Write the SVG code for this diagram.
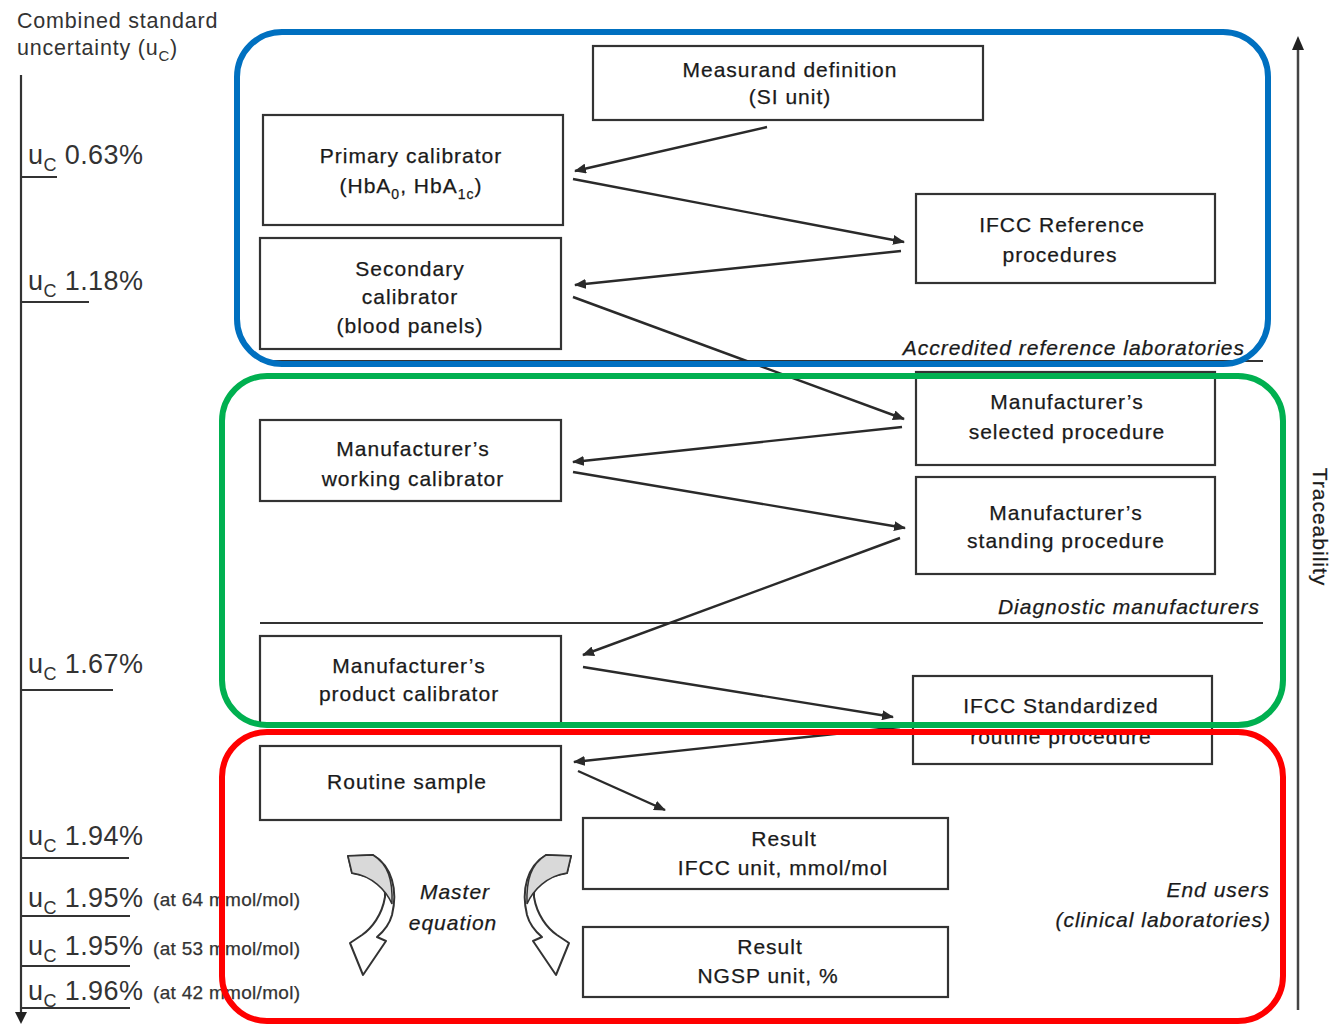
<svg xmlns="http://www.w3.org/2000/svg" width="1339" height="1026" viewBox="0 0 1339 1026">
  <defs>
    <marker id="tri" viewBox="0 0 12 10" refX="11" refY="5" markerWidth="12" markerHeight="10" markerUnits="userSpaceOnUse" orient="auto">
      <path d="M0,0 L12,5 L0,10 Z" fill="#2a2a2a"/>
    </marker>
    <style>
      .bx { fill: #fff; stroke: #333; stroke-width: 2.2; }
      .t { font-family: "Liberation Sans", Arial, sans-serif; font-size: 21px; fill: #1a1a1a; stroke: #1a1a1a; stroke-width: 0.25; letter-spacing: 1px; text-anchor: middle; }
      .it { font-family: "Liberation Sans", Arial, sans-serif; font-size: 21px; font-style: italic; fill: #1a1a1a; stroke: #1a1a1a; stroke-width: 0.25; letter-spacing: 1px; text-anchor: end; }
      .ax { stroke: #333; stroke-width: 2.2; fill: none; }
      .lbl { font-family: "Liberation Sans", Arial, sans-serif; font-size: 27px; fill: #333; letter-spacing: 0.4px; }
      .sub { font-size: 18px; }
      .sm { font-family: "Liberation Sans", Arial, sans-serif; font-size: 19px; fill: #333; stroke: #333; stroke-width: 0.25; letter-spacing: 0.3px; }
      .hd { font-family: "Liberation Sans", Arial, sans-serif; font-size: 21.5px; fill: #333; letter-spacing: 0.8px; }
      .cn { stroke: #2a2a2a; stroke-width: 2.4; fill: none; marker-end: url(#tri); }
      .frame { fill: none; stroke-width: 6; }
      .ribbon { fill: #fff; stroke: #333; stroke-width: 2; stroke-linejoin: round; }
      .fold { fill: #d9d9d9; stroke: #333; stroke-width: 1.5; }
    </style>
  </defs>

  <!-- uncertainty scale on the left -->
  <g id="uncertainty-scale">
    <text class="hd" x="17" y="28">Combined standard</text>
    <text class="hd" x="17" y="55">uncertainty (u<tspan font-size="15" dy="6">C</tspan><tspan dy="-6">)</tspan></text>
    <line class="ax" x1="21" y1="75" x2="21" y2="1014"/>
    <path d="M15,1012 L27,1012 L21,1024 Z" fill="#222"/>
    <line class="ax" x1="21" y1="177" x2="57" y2="177"/>
    <line class="ax" x1="21" y1="302" x2="89" y2="302"/>
    <line class="ax" x1="21" y1="690" x2="113" y2="690"/>
    <line class="ax" x1="21" y1="858" x2="129" y2="858"/>
    <line class="ax" x1="21" y1="916" x2="130" y2="916"/>
    <line class="ax" x1="21" y1="966" x2="130" y2="966"/>
    <line class="ax" x1="21" y1="1008" x2="130" y2="1008"/>
    <text class="lbl" x="28" y="164">u<tspan class="sub" dy="7">C</tspan><tspan dy="-7"> 0.63%</tspan></text>
    <text class="lbl" x="28" y="290">u<tspan class="sub" dy="7">C</tspan><tspan dy="-7"> 1.18%</tspan></text>
    <text class="lbl" x="28" y="673">u<tspan class="sub" dy="7">C</tspan><tspan dy="-7"> 1.67%</tspan></text>
    <text class="lbl" x="28" y="845">u<tspan class="sub" dy="7">C</tspan><tspan dy="-7"> 1.94%</tspan></text>
    <text class="lbl" x="28" y="907">u<tspan class="sub" dy="7">C</tspan><tspan dy="-7"> 1.95%</tspan></text>
    <text class="lbl" x="28" y="955">u<tspan class="sub" dy="7">C</tspan><tspan dy="-7"> 1.95%</tspan></text>
    <text class="lbl" x="28" y="1000">u<tspan class="sub" dy="7">C</tspan><tspan dy="-7"> 1.96%</tspan></text>
    <text class="sm" x="153" y="906">(at 64 mmol/mol)</text>
    <text class="sm" x="153" y="955">(at 53 mmol/mol)</text>
    <text class="sm" x="153" y="999">(at 42 mmol/mol)</text>
  </g>

  <!-- traceability axis on the right -->
  <g id="traceability">
    <line x1="1298" y1="1010" x2="1298" y2="48" stroke="#444" stroke-width="2.5"/>
    <path d="M1292,50 L1304,50 L1298,36 Z" fill="#222"/>
    <text class="t" font-size="24" transform="translate(1313,527) rotate(90)">Traceability</text>
  </g>

  <!-- section divider lines and captions -->
  <g id="sections">
    <line x1="260" y1="361" x2="1263" y2="361" stroke="#333" stroke-width="2"/>
    <line x1="260" y1="623" x2="1263" y2="623" stroke="#333" stroke-width="2"/>
    <text class="it" x="1245" y="355">Accredited reference laboratories</text>
    <text class="it" x="1260" y="614">Diagnostic manufacturers</text>
    <text class="it" x="1270" y="897">End users</text>
    <text class="it" x="1271" y="927">(clinical laboratories)</text>
  </g>

  <!-- connectors -->
  <g id="connectors">
    <line class="cn" x1="767" y1="127" x2="575" y2="171"/>
    <line class="cn" x1="573" y1="179" x2="904" y2="242"/>
    <line class="cn" x1="901" y1="251" x2="575" y2="285"/>
    <line class="cn" x1="573" y1="297" x2="904" y2="419"/>
    <line class="cn" x1="902" y1="427" x2="573" y2="462"/>
    <line class="cn" x1="573" y1="472" x2="905" y2="528"/>
    <line class="cn" x1="900" y1="538" x2="583" y2="655"/>
    <line class="cn" x1="583" y1="667" x2="893" y2="717"/>
    <line class="cn" x1="900" y1="727" x2="574" y2="762"/>
    <line class="cn" x1="578" y1="771" x2="665" y2="810"/>
  </g>

  <!-- nodes -->
  <g id="measurand">
    <rect class="bx" x="593" y="46" width="390" height="74"/>
    <text class="t" x="790" y="77">Measurand definition</text>
    <text class="t" x="790" y="104">(SI unit)</text>
  </g>
  <g id="primary-calibrator">
    <rect class="bx" x="263" y="115" width="300" height="110"/>
    <text class="t" x="411" y="163">Primary calibrator</text>
    <text class="t" x="411" y="193">(HbA<tspan font-size="14" dy="6">0</tspan><tspan dy="-6">, HbA</tspan><tspan font-size="14" dy="6">1c</tspan><tspan dy="-6">)</tspan></text>
  </g>
  <g id="secondary-calibrator">
    <rect class="bx" x="260" y="238" width="301" height="111"/>
    <text class="t" x="410" y="276">Secondary</text>
    <text class="t" x="410" y="304">calibrator</text>
    <text class="t" x="410" y="333">(blood panels)</text>
  </g>
  <g id="ifcc-reference">
    <rect class="bx" x="916" y="194" width="299" height="89"/>
    <text class="t" x="1062" y="232">IFCC Reference</text>
    <text class="t" x="1060" y="262">procedures</text>
  </g>
  <g id="mfr-selected">
    <rect class="bx" x="916" y="372" width="299" height="93"/>
    <text class="t" x="1067" y="409">Manufacturer’s</text>
    <text class="t" x="1067" y="439">selected procedure</text>
  </g>
  <g id="mfr-working">
    <rect class="bx" x="260" y="420" width="301" height="81"/>
    <text class="t" x="413" y="456">Manufacturer’s</text>
    <text class="t" x="413" y="486">working calibrator</text>
  </g>
  <g id="mfr-standing">
    <rect class="bx" x="916" y="477" width="299" height="97"/>
    <text class="t" x="1066" y="520">Manufacturer’s</text>
    <text class="t" x="1066" y="548">standing procedure</text>
  </g>
  <g id="mfr-product">
    <rect class="bx" x="260" y="636" width="301" height="88"/>
    <text class="t" x="409" y="673">Manufacturer’s</text>
    <text class="t" x="409" y="701">product calibrator</text>
  </g>
  <g id="ifcc-standardized">
    <rect class="bx" x="913" y="676" width="299" height="88"/>
    <text class="t" x="1061" y="713">IFCC Standardized</text>
    <text class="t" x="1061" y="744">routine procedure</text>
  </g>
  <g id="routine-sample">
    <rect class="bx" x="260" y="746" width="301" height="74"/>
    <text class="t" x="407" y="789">Routine sample</text>
  </g>
  <g id="result-ifcc">
    <rect class="bx" x="583" y="818" width="365" height="71"/>
    <text class="t" x="784" y="846">Result</text>
    <text class="t" x="783" y="875">IFCC unit, mmol/mol</text>
  </g>
  <g id="result-ngsp">
    <rect class="bx" x="583" y="927" width="365" height="70"/>
    <text class="t" x="770" y="954">Result</text>
    <text class="t" x="768" y="983">NGSP unit, %</text>
  </g>

  <!-- master equation: two curved ribbon arrows -->
  <g id="master-equation">
    <g id="ribbon-left">
      <path class="ribbon" d="M348,856 L373,855 C392,866 398,890 392,915 C389,926 383,932 377,937 L386,941 L363,975 L350,943 L362,935 C372,928 382,915 385,897 C386,887 381,878 352,873 Z"/>
      <path class="fold" d="M348,856 L373,855 C388,864 393,880 392,904 C386,890 372,876 352,873 Z"/>
    </g>
    <g id="ribbon-right">
      <path class="ribbon" d="M571,856 L546,855 C527,866 521,890 527,915 C530,926 536,932 542,937 L533,941 L556,975 L569,943 L557,935 C547,928 537,915 534,897 C533,887 538,878 567,873 Z"/>
      <path class="fold" d="M571,856 L546,855 C531,864 526,880 527,904 C533,890 547,876 567,873 Z"/>
    </g>
    <text class="t" x="455" y="899" font-size="25" font-style="italic">Master</text>
    <text class="t" x="453" y="930" font-size="25" font-style="italic">equation</text>
  </g>

  <!-- coloured group frames -->
  <g id="frames">
    <rect class="frame" x="237" y="32" width="1031" height="332" rx="45" stroke="#0070C0"/>
    <rect class="frame" x="222" y="376" width="1061" height="349" rx="45" stroke="#00B050"/>
    <rect class="frame" x="222" y="732" width="1061" height="289" rx="45" stroke="#FF0000"/>
  </g>
</svg>
